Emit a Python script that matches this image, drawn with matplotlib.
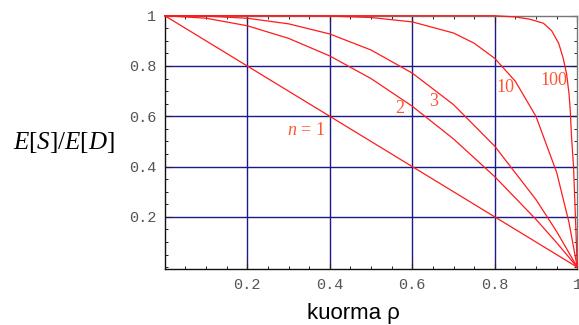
import matplotlib
matplotlib.use("Agg")
import matplotlib.pyplot as plt
from matplotlib.ticker import MultipleLocator, FixedLocator

plt.rcParams['mathtext.fontset'] = 'custom'
plt.rcParams['mathtext.rm'] = 'Liberation Serif'
plt.rcParams['mathtext.it'] = 'Liberation Serif:italic'

# load rho and E[S]/E[D] for each number of servers n
rho_1 = [0.0, 0.2, 0.4, 0.6, 0.8, 1.0]
val_1 = [1.0, 0.8, 0.6, 0.4, 0.2, 0.0]

rho_2 = [0.0, 0.1, 0.2, 0.3, 0.4, 0.5, 0.6, 0.7, 0.8, 0.9, 0.95, 1.0]
val_2 = [1.0, 0.99, 0.96, 0.91, 0.84, 0.75, 0.64, 0.51, 0.36, 0.19, 0.0975, 0.0]

rho_3 = [0.0, 0.1, 0.2, 0.3, 0.4, 0.5, 0.6, 0.7, 0.8, 0.9, 0.95, 1.0]
val_3 = [1.0, 0.9986, 0.9898, 0.9677, 0.9273, 0.8636, 0.7718, 0.6464, 0.4811, 0.2686, 0.1419, 0.0]

rho_10 = [0.0, 0.2, 0.3, 0.4, 0.5, 0.6, 0.7, 0.75, 0.8, 0.85, 0.9, 0.95, 0.98, 1.0]
val_10 = [1.0, 1.0, 0.9999, 0.9985, 0.9928, 0.9753, 0.9312, 0.8907, 0.8302, 0.7390, 0.5993, 0.3772, 0.1773, 0.0]

rho_100 = [0.0, 0.5, 0.8, 0.85, 0.885, 0.918, 0.938, 0.955, 0.966, 0.974, 0.98, 0.983, 0.986, 0.991, 1.0]
val_100 = [1.0, 1.0, 1.0, 0.995, 0.986, 0.97, 0.94, 0.89, 0.83, 0.77, 0.69, 0.625, 0.52, 0.40, 0.0]

series = [(rho_1, val_1), (rho_2, val_2), (rho_3, val_3), (rho_10, val_10), (rho_100, val_100)]

curve_labels = ["$n$ = 1", "2", "3", "10", "100"]
label_x = [0.342, 0.569, 0.652, 0.826, 0.944]
label_y = [0.544, 0.632, 0.660, 0.716, 0.744]

major_ticks = [0.2, 0.4, 0.6, 0.8, 1.0]
tick_labels = ["0.2", "0.4", "0.6", "0.8", "1"]

fig = plt.figure(figsize=(5.79, 3.25), dpi=100)
ax = fig.add_axes([0.2846, 0.1732, 0.7124, 0.7785])
ax.set_xlim(0, 1)
ax.set_ylim(-0.006, 1)

grid_color = '#1a1a88'
for t in major_ticks[:-1]:
    ax.axvline(t, color=grid_color, lw=1.0, zorder=1)
    ax.axhline(t, color=grid_color, lw=1.0, zorder=1)

for xs, ys in series:
    ax.plot(xs, ys, color='#ff1a1a', lw=0.9, zorder=3, clip_on=False)

for txt, lx, ly in zip(curve_labels, label_x, label_y):
    ax.text(lx, ly, txt, color='#ff5533', fontsize=13, family='Liberation Serif',
            ha='center', va='center', zorder=4)

ax.xaxis.set_major_locator(FixedLocator(major_ticks))
ax.yaxis.set_major_locator(FixedLocator(major_ticks))
ax.set_xticklabels(tick_labels)
ax.set_yticklabels(tick_labels)
ax.xaxis.set_minor_locator(MultipleLocator(0.05))
ax.yaxis.set_minor_locator(MultipleLocator(0.05))
ax.tick_params(which='both', direction='in', top=True, right=True, color='#222222')
ax.tick_params(which='major', length=4, width=0.8)
ax.tick_params(which='minor', length=2, width=0.7)
ax.tick_params(axis='x', which='major', pad=6.8)
ax.tick_params(axis='y', which='major', pad=6)
for lab in ax.get_xticklabels() + ax.get_yticklabels():
    lab.set_family('Liberation Mono')
    lab.set_fontsize(11)
    lab.set_color('#555555')

for side in ['left', 'bottom']:
    ax.spines[side].set_color('#111111')
    ax.spines[side].set_linewidth(1.0)
for side in ['top', 'right']:
    ax.spines[side].set_color('#777777')
    ax.spines[side].set_linewidth(1.0)

fig.text(0.111, 0.56, "$E[S]/E[D]$", fontsize=18, ha='center', va='center')
fig.text(0.611, 0.036, "kuorma ρ", fontsize=16, family='Liberation Sans',
         ha='center', va='center')

fig.savefig("out.png", dpi=100)
